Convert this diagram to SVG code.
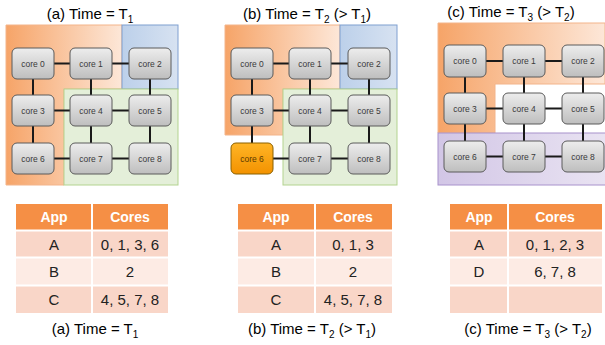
<svg xmlns="http://www.w3.org/2000/svg" width="605" height="345" viewBox="0 0 605 345">
<defs>
<linearGradient id="coreG" x1="0" y1="0" x2="0" y2="1"><stop offset="0" stop-color="#EDEDED"/><stop offset="1" stop-color="#BEBEBE"/></linearGradient>
<linearGradient id="hotG" x1="0" y1="0" x2="0" y2="1"><stop offset="0" stop-color="#FFB526"/><stop offset="1" stop-color="#F39200"/></linearGradient>
<linearGradient id="orA" gradientUnits="userSpaceOnUse" x1="6" y1="0" x2="122" y2="0"><stop offset="0" stop-color="#F6A468"/><stop offset="1" stop-color="#FDE7D8"/></linearGradient>
<linearGradient id="orB" gradientUnits="userSpaceOnUse" x1="225" y1="0" x2="340" y2="0"><stop offset="0" stop-color="#F6A468"/><stop offset="1" stop-color="#FDE7D8"/></linearGradient>
<linearGradient id="orC" gradientUnits="userSpaceOnUse" x1="438" y1="0" x2="605" y2="0"><stop offset="0" stop-color="#F6A468"/><stop offset="1" stop-color="#FDE7D8"/></linearGradient>
<linearGradient id="puC" gradientUnits="userSpaceOnUse" x1="438" y1="0" x2="605" y2="0"><stop offset="0" stop-color="#D2C6E6"/><stop offset="1" stop-color="#E9E3F2"/></linearGradient>
<linearGradient id="blG" x1="0" y1="0" x2="1" y2="0"><stop offset="0" stop-color="#BCD0EA"/><stop offset="1" stop-color="#D7E2F1"/></linearGradient>
</defs>
<style>
.t{font-family:"Liberation Sans",Arial,sans-serif;fill:#000;font-size:15px;text-anchor:middle}
.core rect{fill:url(#coreG);stroke:#5A5A5A;stroke-width:1}
.core text{font-family:"Liberation Sans",Arial,sans-serif;font-size:8.5px;fill:#3A3A3A;text-anchor:middle}
.hot rect{fill:url(#hotG);stroke:#8A6000}
.hot text{fill:#5A3A00}
.link line{stroke:#1A1A1A;stroke-width:2}
.blue{fill:url(#blG);stroke:#7F9FD0;stroke-width:1}
.green{fill:#E4EFD9;stroke:#B3D38F;stroke-width:1}
.orange{stroke:#F3B48A;stroke-width:1}
.purple{fill:url(#puC);stroke:#A892CC;stroke-width:1}
.hd{fill:#F58F45}
.ra{fill:#F9D6C8}
.rb{fill:#FDEBE4}
.th{font-family:"Liberation Sans",Arial,sans-serif;font-size:14px;font-weight:bold;fill:#fff;text-anchor:middle}
.td{font-family:"Liberation Sans",Arial,sans-serif;font-size:15px;fill:#222;text-anchor:middle}
.sep{stroke:#fff;stroke-width:2}
</style>

<!-- titles -->
<text class="t" x="90" y="19">(a) Time = T<tspan font-size="10" dy="4">1</tspan></text>
<text class="t" x="307" y="19">(b) Time = T<tspan font-size="10" dy="4">2</tspan><tspan dy="-4"> (&gt; T</tspan><tspan font-size="10" dy="4">1</tspan><tspan dy="-4">)</tspan></text>
<text class="t" x="511" y="17">(c) Time = T<tspan font-size="10" dy="4">3</tspan><tspan dy="-4"> (&gt; T</tspan><tspan font-size="10" dy="4">2</tspan><tspan dy="-4">)</tspan></text>

<!-- regions -->
<g id="regions">
<path class="orange" fill="url(#orA)" d="M6,25 H122 V89 H64 V185 H6 Z"/>
<rect class="blue" x="122" y="25" width="56" height="64"/>
<rect class="green" x="64" y="89" width="114" height="96"/>
<path class="orange" fill="url(#orB)" d="M225,25 H340 V89 H283 V135 H225 Z"/>
<rect class="blue" x="340" y="25" width="57" height="64"/>
<rect class="green" x="283" y="89" width="114" height="96"/>
<path class="orange" fill="url(#orC)" d="M438,23 H605 V84 H495 V133 H438 Z"/>
<rect class="purple" x="438" y="133" width="168" height="52"/>
</g>

<!-- connectors -->
<g id="connectors" class="link">
<line x1="33" y1="63.5" x2="150" y2="63.5"/><line x1="33" y1="110.5" x2="150" y2="110.5"/><line x1="33" y1="158.5" x2="150" y2="158.5"/>
<line x1="33" y1="63.5" x2="33" y2="158.5"/><line x1="91" y1="63.5" x2="91" y2="158.5"/><line x1="150" y1="63.5" x2="150" y2="158.5"/>
<line x1="252" y1="63.5" x2="369" y2="63.5"/><line x1="252" y1="110.5" x2="369" y2="110.5"/><line x1="252" y1="158.5" x2="369" y2="158.5"/>
<line x1="252" y1="63.5" x2="252" y2="158.5"/><line x1="310" y1="63.5" x2="310" y2="158.5"/><line x1="369" y1="63.5" x2="369" y2="158.5"/>
<line x1="465" y1="61" x2="583" y2="61"/><line x1="465" y1="108.5" x2="583" y2="108.5"/><line x1="465" y1="156.5" x2="583" y2="156.5"/>
<line x1="465" y1="61" x2="465" y2="156.5"/><line x1="524" y1="61" x2="524" y2="156.5"/><line x1="583" y1="61" x2="583" y2="156.5"/>
</g>

<!-- panel a nodes -->
<g id="a-core0" class="core"><rect x="12" y="48" width="42" height="31" rx="5"/><text x="33" y="66.5">core 0</text></g>
<g id="a-core1" class="core"><rect x="70" y="48" width="42" height="31" rx="5"/><text x="91" y="66.5">core 1</text></g>
<g id="a-core2" class="core"><rect x="129" y="48" width="42" height="31" rx="5"/><text x="150" y="66.5">core 2</text></g>
<g id="a-core3" class="core"><rect x="12" y="95" width="42" height="31" rx="5"/><text x="33" y="113.5">core 3</text></g>
<g id="a-core4" class="core"><rect x="70" y="95" width="42" height="31" rx="5"/><text x="91" y="113.5">core 4</text></g>
<g id="a-core5" class="core"><rect x="129" y="95" width="42" height="31" rx="5"/><text x="150" y="113.5">core 5</text></g>
<g id="a-core6" class="core"><rect x="12" y="143" width="42" height="31" rx="5"/><text x="33" y="161.5">core 6</text></g>
<g id="a-core7" class="core"><rect x="70" y="143" width="42" height="31" rx="5"/><text x="91" y="161.5">core 7</text></g>
<g id="a-core8" class="core"><rect x="129" y="143" width="42" height="31" rx="5"/><text x="150" y="161.5">core 8</text></g>

<!-- panel b nodes -->
<g id="b-core0" class="core"><rect x="231" y="48" width="42" height="31" rx="5"/><text x="252" y="66.5">core 0</text></g>
<g id="b-core1" class="core"><rect x="289" y="48" width="42" height="31" rx="5"/><text x="310" y="66.5">core 1</text></g>
<g id="b-core2" class="core"><rect x="348" y="48" width="42" height="31" rx="5"/><text x="369" y="66.5">core 2</text></g>
<g id="b-core3" class="core"><rect x="231" y="95" width="42" height="31" rx="5"/><text x="252" y="113.5">core 3</text></g>
<g id="b-core4" class="core"><rect x="289" y="95" width="42" height="31" rx="5"/><text x="310" y="113.5">core 4</text></g>
<g id="b-core5" class="core"><rect x="348" y="95" width="42" height="31" rx="5"/><text x="369" y="113.5">core 5</text></g>
<g id="b-core6" class="core hot"><rect x="231" y="143" width="42" height="31" rx="5"/><text x="252" y="161.5">core 6</text></g>
<g id="b-core7" class="core"><rect x="289" y="143" width="42" height="31" rx="5"/><text x="310" y="161.5">core 7</text></g>
<g id="b-core8" class="core"><rect x="348" y="143" width="42" height="31" rx="5"/><text x="369" y="161.5">core 8</text></g>

<!-- panel c nodes -->
<g id="c-core0" class="core"><rect x="444" y="45" width="42" height="32" rx="5"/><text x="465" y="64">core 0</text></g>
<g id="c-core1" class="core"><rect x="503" y="45" width="42" height="32" rx="5"/><text x="524" y="64">core 1</text></g>
<g id="c-core2" class="core"><rect x="562" y="45" width="42" height="32" rx="5"/><text x="583" y="64">core 2</text></g>
<g id="c-core3" class="core"><rect x="444" y="93" width="42" height="31" rx="5"/><text x="465" y="111.5">core 3</text></g>
<g id="c-core4" class="core"><rect x="503" y="93" width="42" height="31" rx="5"/><text x="524" y="111.5">core 4</text></g>
<g id="c-core5" class="core"><rect x="562" y="93" width="42" height="31" rx="5"/><text x="583" y="111.5">core 5</text></g>
<g id="c-core6" class="core"><rect x="444" y="141" width="42" height="31" rx="5"/><text x="465" y="159.5">core 6</text></g>
<g id="c-core7" class="core"><rect x="503" y="141" width="42" height="31" rx="5"/><text x="524" y="159.5">core 7</text></g>
<g id="c-core8" class="core"><rect x="562" y="141" width="42" height="31" rx="5"/><text x="583" y="159.5">core 8</text></g>

<!-- tables -->
<g id="table-a">
<rect class="hd" x="16" y="204" width="152" height="26"/>
<rect class="ra" x="16" y="231" width="152" height="26"/>
<rect class="rb" x="16" y="258" width="152" height="27"/>
<rect class="ra" x="16" y="286" width="152" height="27"/>
<line class="sep" x1="92" y1="204" x2="92" y2="313"/>
<line class="sep" x1="16" y1="230.5" x2="168" y2="230.5"/><line class="sep" x1="16" y1="257.5" x2="168" y2="257.5"/><line class="sep" x1="16" y1="285.5" x2="168" y2="285.5"/>
<text class="th" x="54" y="222">App</text><text class="th" x="130" y="222">Cores</text>
<text class="td" x="54" y="250">A</text><text class="td" x="130" y="250">0, 1, 3, 6</text>
<text class="td" x="54" y="277">B</text><text class="td" x="130" y="277">2</text>
<text class="td" x="54" y="305">C</text><text class="td" x="130" y="305">4, 5, 7, 8</text>
<text class="t" x="95" y="334">(a) Time = T<tspan font-size="10" dy="4">1</tspan></text>
</g>

<g id="table-b">
<rect class="hd" x="238" y="204" width="154" height="26"/>
<rect class="ra" x="238" y="231" width="154" height="26"/>
<rect class="rb" x="238" y="258" width="154" height="27"/>
<rect class="ra" x="238" y="286" width="154" height="27"/>
<line class="sep" x1="315" y1="204" x2="315" y2="313"/>
<line class="sep" x1="238" y1="230.5" x2="392" y2="230.5"/><line class="sep" x1="238" y1="257.5" x2="392" y2="257.5"/><line class="sep" x1="238" y1="285.5" x2="392" y2="285.5"/>
<text class="th" x="276" y="222">App</text><text class="th" x="353" y="222">Cores</text>
<text class="td" x="276" y="250">A</text><text class="td" x="353" y="250">0, 1, 3</text>
<text class="td" x="276" y="277">B</text><text class="td" x="353" y="277">2</text>
<text class="td" x="276" y="305">C</text><text class="td" x="353" y="305">4, 5, 7, 8</text>
<text class="t" x="312" y="334">(b) Time = T<tspan font-size="10" dy="4">2</tspan><tspan dy="-4"> (&gt; T</tspan><tspan font-size="10" dy="4">1</tspan><tspan dy="-4">)</tspan></text>
</g>

<g id="table-c">
<rect class="hd" x="450" y="204" width="152" height="26"/>
<rect class="ra" x="450" y="231" width="152" height="26"/>
<rect class="rb" x="450" y="258" width="152" height="27"/>
<rect class="ra" x="450" y="286" width="152" height="27"/>
<line class="sep" x1="508" y1="204" x2="508" y2="313"/>
<line class="sep" x1="450" y1="230.5" x2="602" y2="230.5"/><line class="sep" x1="450" y1="257.5" x2="602" y2="257.5"/><line class="sep" x1="450" y1="285.5" x2="602" y2="285.5"/>
<text class="th" x="479" y="222">App</text><text class="th" x="555" y="222">Cores</text>
<text class="td" x="479" y="250">A</text><text class="td" x="555" y="250">0, 1, 2, 3</text>
<text class="td" x="479" y="277">D</text><text class="td" x="555" y="277">6, 7, 8</text>
<text class="t" x="528" y="334">(c) Time = T<tspan font-size="10" dy="4">3</tspan><tspan dy="-4"> (&gt; T</tspan><tspan font-size="10" dy="4">2</tspan><tspan dy="-4">)</tspan></text>
</g>
</svg>
